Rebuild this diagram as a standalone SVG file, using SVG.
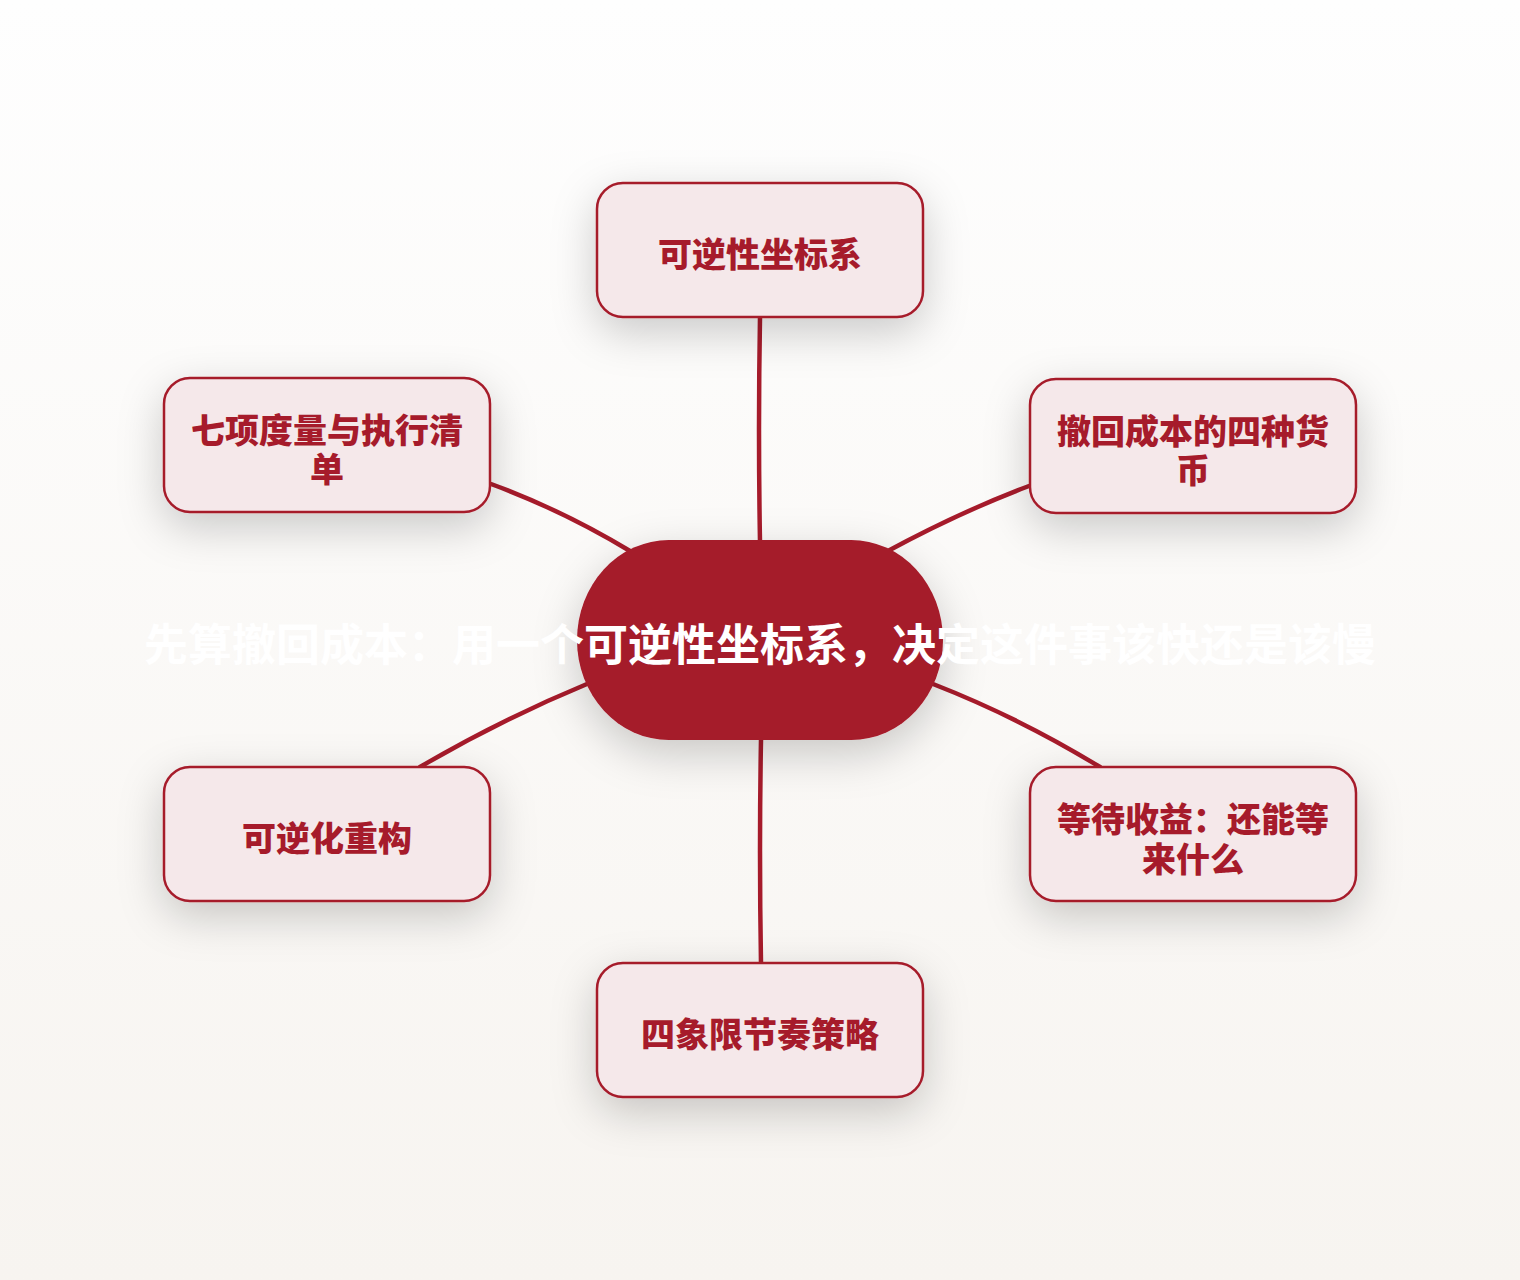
<svg xmlns="http://www.w3.org/2000/svg" width="1520" height="1280" viewBox="0 0 1520 1280">
<defs>
<linearGradient id="bg" x1="0" y1="0" x2="0" y2="1">
<stop offset="0" stop-color="#fefefe"/>
<stop offset="1" stop-color="#f7f4f0"/>
</linearGradient>
<filter id="sh" x="-40%" y="-40%" width="180%" height="200%">
<feDropShadow dx="0" dy="14" stdDeviation="22" flood-color="#000" flood-opacity="0.2"/>
</filter>
<style>
.node rect{fill:#f5e8ea;stroke:#a61b2b;stroke-width:2.5}
.node text{fill:#a61b2b;font-family:"Noto Sans CJK SC","Noto Sans",sans-serif;font-weight:900;font-size:34px;text-anchor:middle;dominant-baseline:central}
.edge{fill:none;stroke:#a61b2b;stroke-width:4.5;stroke-linecap:round}
.center text{fill:#ffffff;font-family:"Noto Sans CJK SC","Noto Sans",sans-serif;font-weight:700;font-size:44px;text-anchor:middle;dominant-baseline:central}
</style>
</defs>
<rect x="0" y="0" width="1520" height="1280" fill="url(#bg)"/>
<g id="connectors">
<path class="edge" d="M760,317 Q758,430 760,542"/>
<path class="edge" d="M1029,486 Q960,512 886,552"/>
<path class="edge" d="M491,484 Q562,510 630,551"/>
<path class="edge" d="M587,684 Q500,720 420,767"/>
<path class="edge" d="M933,684 Q1020,718 1100,767"/>
<path class="edge" d="M761,740 Q759,850 761,963"/>
</g>
<g id="center" class="center">
<rect x="577" y="540" width="366" height="200" rx="92" ry="100" fill="#a51b2a" filter="url(#sh)"/>
<text x="760" y="642">先算撤回成本：用一个可逆性坐标系，决定这件事该快还是该慢</text>
</g>
<g id="n1" class="node">
<rect x="597" y="183" width="326" height="134" rx="26" filter="url(#sh)"/>
<text x="760" y="252">可逆性坐标系</text>
</g>
<g id="n2" class="node">
<rect x="1030" y="379" width="326" height="134" rx="26" filter="url(#sh)"/>
<text x="1193" y="429">撤回成本的四种货</text>
<text x="1193" y="468">币</text>
</g>
<g id="n3" class="node">
<rect x="1030" y="767" width="326" height="134" rx="26" filter="url(#sh)"/>
<text x="1193" y="817">等待收益：还能等</text>
<text x="1193" y="857">来什么</text>
</g>
<g id="n4" class="node">
<rect x="597" y="963" width="326" height="134" rx="26" filter="url(#sh)"/>
<text x="760" y="1032">四象限节奏策略</text>
</g>
<g id="n5" class="node">
<rect x="164" y="767" width="326" height="134" rx="26" filter="url(#sh)"/>
<text x="327" y="836">可逆化重构</text>
</g>
<g id="n6" class="node">
<rect x="164" y="378" width="326" height="134" rx="26" filter="url(#sh)"/>
<text x="327" y="428">七项度量与执行清</text>
<text x="327" y="467">单</text>
</g>
</svg>
